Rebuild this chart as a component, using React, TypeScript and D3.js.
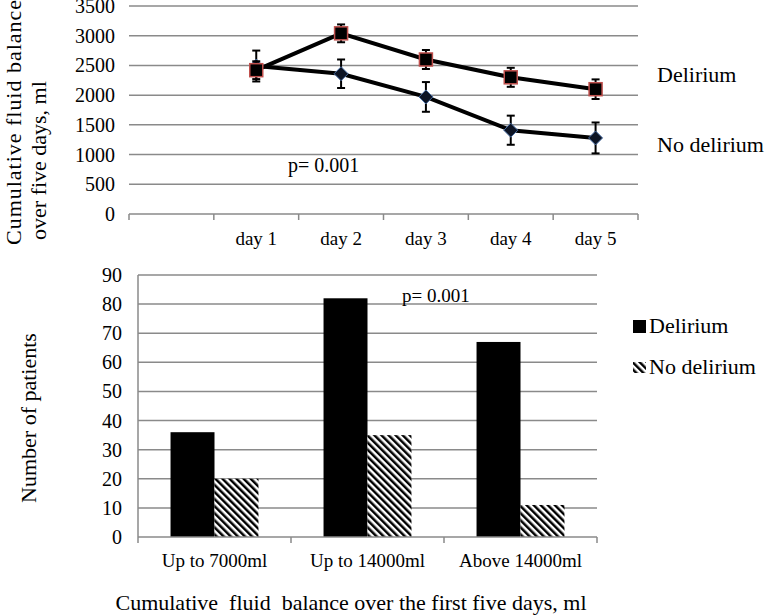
import * as d3 from 'd3';

// top chart: cumulative fluid balance by day (ml), mean with error bars
const days = ['', 'day 1', 'day 2', 'day 3', 'day 4', 'day 5'];
const deliriumBalance = [null, 2420, 3040, 2600, 2300, 2100];
const deliriumErr = [null, 150, 150, 160, 160, 165];
const noDeliriumBalance = [null, 2490, 2360, 1970, 1410, 1280];
const noDeliriumErr = [null, 260, 240, 250, 245, 260];
const balanceTicks = [0, 500, 1000, 1500, 2000, 2500, 3000, 3500];

// bottom chart: number of patients per fluid balance group
const groups = ['Up to 7000ml', 'Up to 14000ml', 'Above 14000ml'];
const seriesNames = ['Delirium', 'No delirium'];
const deliriumCounts = [36, 82, 67];
const noDeliriumCounts = [20, 35, 11];
const countTicks = [0, 10, 20, 30, 40, 50, 60, 70, 80, 90];

const FONT = "'Liberation Serif', 'Times New Roman', serif";
const GRID = '#8a8a8a';

export default function App() {
  // ---- top chart scales
  const xTop = d3.scaleBand().domain(days).range([129, 638]).padding(0);
  const yTop = d3.scaleLinear().domain([0, 3500]).range([214, 6]);
  const cx = (i: number) => (xTop(days[i]) as number) + xTop.bandwidth() / 2;

  const line = d3
    .line<number | null>()
    .defined((d) => d != null)
    .x((_, i) => cx(i))
    .y((d) => yTop(d as number));

  const topBoundaries = days.map((d) => xTop(d) as number).concat([638]);

  // ---- bottom chart scales
  const x0 = d3.scaleBand().domain(groups).range([138, 597]).padding(0);
  const x1 = d3
    .scaleBand()
    .domain(seriesNames)
    .range([0, x0.bandwidth()])
    .paddingInner(0)
    .paddingOuter(0.74);
  const yBot = d3.scaleLinear().domain([0, 90]).range([537, 275]);
  const botBoundaries = groups.map((g) => x0(g) as number).concat([597]);

  const errBar = (vals: (number | null)[], errs: (number | null)[], key: string) =>
    vals.map((v, i) => {
      if (v == null) return null;
      const e = errs[i] as number;
      const x = cx(i);
      const y1 = yTop(v + e);
      const y2 = yTop(v - e);
      return (
        <g key={key + i} stroke="#000" strokeWidth={2}>
          <line x1={x} x2={x} y1={y1} y2={y2} />
          <line x1={x - 4} x2={x + 4} y1={y1} y2={y1} />
          <line x1={x - 4} x2={x + 4} y1={y2} y2={y2} />
        </g>
      );
    });

  const txt = { fontFamily: FONT };

  return (
    <svg
      width={766}
      height={615}
      style={{ position: 'absolute', left: 0, top: 0, background: '#fff', fontFamily: FONT }}
    >
      <defs>
        <pattern
          id="hatch"
          patternUnits="userSpaceOnUse"
          width={5}
          height={5}
          patternTransform="rotate(-45)"
        >
          <rect width={5} height={5} fill="#fff" />
          <rect width={2.5} height={5} fill="#000" />
        </pattern>
      </defs>

      {/* ================= TOP CHART ================= */}
      {balanceTicks.map((t) => (
        <g key={'gt' + t}>
          <line x1={129} x2={638} y1={yTop(t)} y2={yTop(t)} stroke={GRID} strokeWidth={1.5} />
          <text x={115} y={yTop(t)} dy="0.35em" textAnchor="end" fontSize={20} style={txt}>
            {t}
          </text>
        </g>
      ))}
      {topBoundaries.map((b, i) => (
        <line key={'tt' + i} x1={b} x2={b} y1={214} y2={220} stroke={GRID} strokeWidth={1.5} />
      ))}
      {days.map((d) =>
        d ? (
          <text key={'dl' + d} x={(xTop(d) as number) + xTop.bandwidth() / 2} y={245} textAnchor="middle" fontSize={19} style={txt}>
            {d}
          </text>
        ) : null
      )}

      <path d={line(noDeliriumBalance) || ''} fill="none" stroke="#000" strokeWidth={4} />
      <path d={line(deliriumBalance) || ''} fill="none" stroke="#000" strokeWidth={4} />

      {errBar(noDeliriumBalance, noDeliriumErr, 'ne')}
      {noDeliriumBalance.map((v, i) =>
        v == null ? null : (
          <path
            key={'nd' + i}
            d={`M${cx(i)},${yTop(v) - 7}L${cx(i) + 7},${yTop(v)}L${cx(i)},${yTop(v) + 7}L${cx(i) - 7},${yTop(v)}Z`}
            fill="#0d1424"
            stroke="#4a6fa5"
            strokeWidth={1}
          />
        )
      )}
      {errBar(deliriumBalance, deliriumErr, 'de')}
      {deliriumBalance.map((v, i) =>
        v == null ? null : (
          <rect
            key={'dm' + i}
            x={cx(i) - 6.5}
            y={yTop(v) - 6.5}
            width={13}
            height={13}
            fill="#000"
            stroke="#c0504d"
            strokeWidth={1.5}
          />
        )
      )}

      <text x={657} y={82} fontSize={22} style={txt}>Delirium</text>
      <text x={657} y={152} fontSize={22} style={txt}>No delirium</text>
      <text x={288} y={172} fontSize={20} style={txt}>p= 0.001</text>

      <text transform="translate(21,245) rotate(-90)" fontSize={22} textLength={245} lengthAdjust="spacing" style={txt}>
        Cumulative fluid balance
      </text>
      <text transform="translate(46,240) rotate(-90)" fontSize={22} style={txt}>
        over five days, ml
      </text>

      {/* ================= BOTTOM CHART ================= */}
      {countTicks.map((t) => (
        <g key={'gb' + t}>
          {t > 0 && (
            <line x1={138} x2={597} y1={yBot(t)} y2={yBot(t)} stroke={GRID} strokeWidth={1.5} />
          )}
          <text x={122} y={yBot(t)} dy="0.35em" textAnchor="end" fontSize={20} style={txt}>
            {t}
          </text>
        </g>
      ))}

      {groups.map((g, i) => (
        <g key={'bar' + g} transform={`translate(${x0(g)},0)`}>
          <rect
            x={x1('Delirium')}
            y={yBot(deliriumCounts[i])}
            width={x1.bandwidth()}
            height={yBot(0) - yBot(deliriumCounts[i])}
            fill="#000"
          />
          <rect
            x={x1('No delirium')}
            y={yBot(noDeliriumCounts[i])}
            width={x1.bandwidth()}
            height={yBot(0) - yBot(noDeliriumCounts[i])}
            fill="url(#hatch)"
          />
          <text x={x0.bandwidth() / 2} y={567} textAnchor="middle" fontSize={19} style={txt}>
            {g}
          </text>
        </g>
      ))}

      <line x1={138} x2={597} y1={537} y2={537} stroke={GRID} strokeWidth={1.5} />
      <line x1={138} x2={138} y1={275} y2={537} stroke={GRID} strokeWidth={1.5} />
      {botBoundaries.map((b, i) => (
        <line key={'bt' + i} x1={b} x2={b} y1={537} y2={543} stroke={GRID} strokeWidth={1.5} />
      ))}

      <text x={402} y={302} fontSize={19} style={txt}>p= 0.001</text>

      <rect x={633} y={320} width={13} height={13} fill="#000" />
      <text x={649} y={333} fontSize={22} style={txt}>Delirium</text>
      <rect x={633} y={362} width={13} height={11} fill="url(#hatch)" />
      <text x={649} y={374} fontSize={22} style={txt}>No delirium</text>

      <text transform="translate(36,418) rotate(-90)" textAnchor="middle" fontSize={22} style={txt}>
        Number of patients
      </text>
      <text x={351} y={610} textAnchor="middle" fontSize={22} style={{ ...txt, whiteSpace: 'pre' }}>
        {'Cumulative  fluid  balance over the first five days, ml'}
      </text>
    </svg>
  );
}
